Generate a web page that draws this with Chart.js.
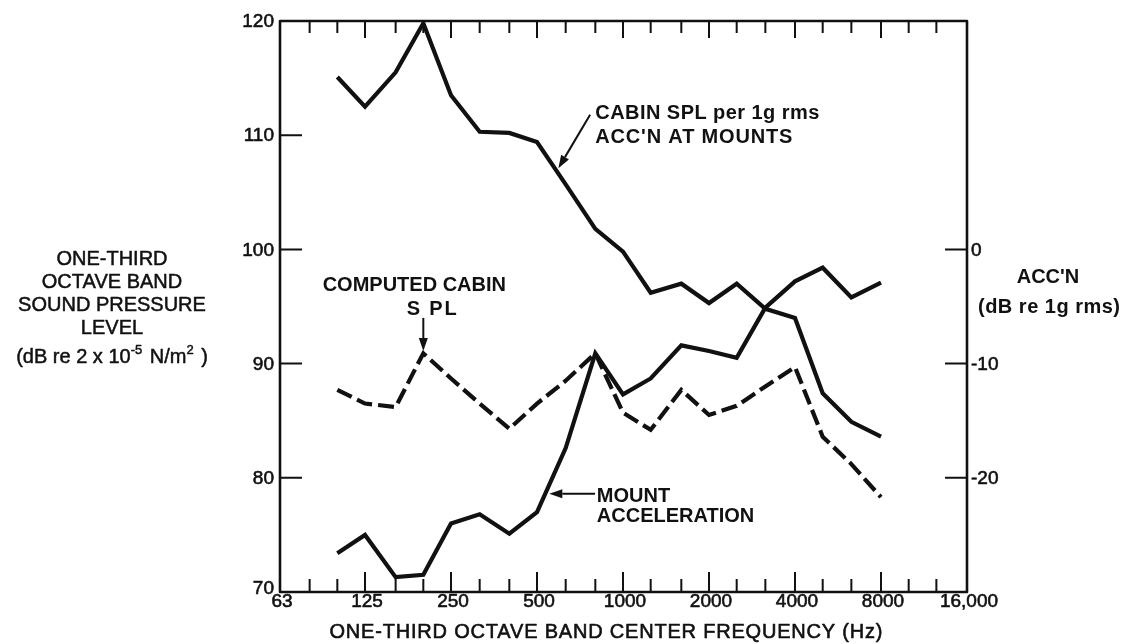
<!DOCTYPE html>
<html>
<head>
<meta charset="utf-8">
<script src="https://cdn.jsdelivr.net/npm/chart.js@4.4.0/dist/chart.umd.min.js"></script>
<style>
  html, body { margin: 0; padding: 0; background: #fff; }
  #wrap { width: 1124px; height: 644px; }
</style>
</head>
<body>
<div id="wrap"><canvas id="spectrum" width="1124" height="644"></canvas></div>
<script>
// one-third octave band centres that carry data (Hz)
const bands = [100, 125, 160, 200, 250, 315, 400, 500, 630, 800, 1000, 1250, 1600, 2000, 2500, 3150, 4000, 5000, 6300, 8000];

// cabin SPL per 1g rms acceleration at mounts (dB re 2x10^-5 N/m^2)
const cabinPerG = [115.1, 112.5, 115.5, 119.8, 113.5, 110.3, 110.2, 109.4, 105.7, 101.8, 99.8, 96.2, 97.0, 95.3, 97.0, 94.8, 94.0, 87.4, 84.9, 83.6];

// computed cabin SPL (dB re 2x10^-5 N/m^2)
const computedSpl = [87.7, 86.5, 86.2, 90.9, 88.7, 86.5, 84.3, 86.5, 88.5, 90.9, 85.7, 84.2, 87.7, 85.5, 86.3, 88.0, 89.7, 83.6, 81.2, 78.3];

// mount acceleration (dB re 1g rms)
const mountAcc = [-26.6, -25.0, -28.7, -28.5, -24.0, -23.2, -24.9, -23.0, -17.4, -9.1, -12.7, -11.3, -8.4, -8.9, -9.5, -5.1, -2.8, -1.6, -4.2, -2.9];

// axis ticks
const bandTicks = [63, 80, 100, 125, 160, 200, 250, 315, 400, 500, 630, 800, 1000, 1250, 1600, 2000, 2500, 3150, 4000, 5000, 6300, 8000, 10000, 12500, 16000];
const octaveLabels = { 63: '63', 125: '125', 250: '250', 500: '500', 1000: '1000', 2000: '2000', 4000: '4000', 8000: '8000', 16000: '16,000' };
const splTicks = [70, 80, 90, 100, 110, 120];
const accTicks = [0, -10, -20];

// callouts, anchored in data units: frequency, dB on the left axis
const notes = [
  { text: 'CABIN SPL per 1g rms', f: 800, db: 111.4, align: 'left', width: 224 },
  { text: "ACC'N AT MOUNTS", f: 800, db: 109.3, align: 'left', width: 197 },
  { text: 'COMPUTED CABIN', f: 186, db: 96.4, align: 'center' },
  { text: 'S PL', f: 214, db: 94.25, align: 'center', width: 50 },
  { text: 'MOUNT', f: 810, db: 77.9, align: 'left' },
  { text: 'ACCELERATION', f: 810, db: 76.15, align: 'left' },
];
const arrows = [
  { from: [767, 111.8], to: [594, 107.1] },
  { from: [200, 94.0], to: [200, 91.1] },
  { from: [798, 78.6], to: [552, 78.6] },
];

const ink = '#111';
const face = 'Liberation Sans, Arial, sans-serif';

const toPoints = vals => vals.map((v, i) => ({ x: bands[i], y: v }));

// draw text, optionally stretched to a given width; heavy adds a thin outline
function putText(ctx, text, x, y, align, width, heavy) {
  ctx.letterSpacing = '0px';
  const natural = ctx.measureText(text).width;
  let w = natural;
  if (width && text.length > 1) {
    ctx.letterSpacing = ((width - natural) / (text.length - 1)) + 'px';
    w = width;
  }
  const left = align === 'center' ? x - w / 2 : align === 'right' ? x - w : x;
  ctx.textAlign = 'left';
  ctx.fillText(text, left, y);
  if (heavy) {
    ctx.lineWidth = heavy;
    ctx.strokeText(text, left, y);
  }
  ctx.letterSpacing = '0px';
}

const paper = {
  id: 'paper',
  afterDatasetsDraw(chart) {
    const { ctx, chartArea: a, scales: { x, y, y1 } } = chart;
    ctx.save();
    ctx.strokeStyle = ink;
    ctx.fillStyle = ink;
    ctx.lineCap = 'butt';
    ctx.lineJoin = 'round';

    // frame
    ctx.lineWidth = 2.6;
    ctx.strokeRect(a.left, a.top, a.right - a.left, a.bottom - a.top);

    // frequency ticks, inward, top and bottom
    ctx.lineWidth = 2;
    ctx.beginPath();
    bandTicks.forEach(f => {
      if (f === 63 || f === 16000) return;
      const px = x.getPixelForValue(f);
      const major = f in octaveLabels;
      ctx.moveTo(px, a.bottom);
      ctx.lineTo(px, a.bottom - (major ? 20 : 13));
      ctx.moveTo(px, a.top);
      ctx.lineTo(px, a.top + (major ? 17 : 12));
    });
    // level ticks, inward, both sides
    splTicks.forEach(v => {
      if (v === 70 || v === 120) return;
      const py = y.getPixelForValue(v);
      ctx.moveTo(a.left, py);
      ctx.lineTo(a.left + 22, py);
    });
    accTicks.forEach(v => {
      const py = y1.getPixelForValue(v);
      ctx.moveTo(a.right, py);
      ctx.lineTo(a.right - 22, py);
    });
    ctx.stroke();

    // tick labels
    ctx.font = '19px ' + face;
    ctx.textBaseline = 'middle';
    splTicks.forEach(v => putText(ctx, String(v), a.left - 6, y.getPixelForValue(v) + (v === 70 ? -3 : 1), 'right', 0, 0.6));
    accTicks.forEach(v => putText(ctx, String(v), a.right + 4, y1.getPixelForValue(v) + 1, 'left', 0, 0.6));
    ctx.textBaseline = 'alphabetic';
    Object.keys(octaveLabels).forEach(f => {
      putText(ctx, octaveLabels[f], x.getPixelForValue(+f) + 2, a.bottom + 15, 'center', 0, 0.6);
    });

    // axis titles
    ctx.font = '20px ' + face;
    putText(ctx, 'ONE-THIRD OCTAVE BAND CENTER FREQUENCY (Hz)', 606, a.bottom + 46, 'center', 553, 0.6);
    const lx = 112;
    ['ONE-THIRD', 'OCTAVE BAND', 'SOUND PRESSURE', 'LEVEL'].forEach((t, i) => {
      putText(ctx, t, lx, 265 + i * 23, 'center', 0, 0.5);
    });
    // (dB re 2x10^-5 N/m^2) with raised exponents
    const parts = [['(dB re 2 x 10', false], ['-5', true], [' N/m', false], ['2', true], [' )', false]];
    const wOf = ([t, sup]) => { ctx.font = (sup ? '13px ' : '20px ') + face; return ctx.measureText(t).width + (sup ? 2 : 0); };
    const total = parts.reduce((s, p) => s + wOf(p), 0);
    let cx = lx - total / 2;
    parts.forEach(p => {
      const w = wOf(p);
      putText(ctx, p[0], cx, p[1] ? 354 : 363, 'left', 0, 0.5);
      cx += w;
    });

    ctx.font = 'bold 20px ' + face;
    putText(ctx, "ACC'N", 1048, 283, 'center');
    putText(ctx, '(dB re 1g rms)', 1049, 313, 'center', 142);

    // callouts
    notes.forEach(n => {
      putText(ctx, n.text, x.getPixelForValue(n.f), y.getPixelForValue(n.db), n.align, n.width);
    });

    // arrows
    ctx.lineWidth = 2;
    arrows.forEach(ar => {
      const x0 = x.getPixelForValue(ar.from[0]), y0 = y.getPixelForValue(ar.from[1]);
      const x1 = x.getPixelForValue(ar.to[0]), y1p = y.getPixelForValue(ar.to[1]);
      const ang = Math.atan2(y1p - y0, x1 - x0);
      const len = 13, half = 4.5;
      const bx = x1 - len * Math.cos(ang), by = y1p - len * Math.sin(ang);
      ctx.beginPath();
      ctx.moveTo(x0, y0);
      ctx.lineTo(bx, by);
      ctx.stroke();
      ctx.beginPath();
      ctx.moveTo(x1, y1p);
      ctx.lineTo(bx + half * Math.sin(ang), by - half * Math.cos(ang));
      ctx.lineTo(bx - half * Math.sin(ang), by + half * Math.cos(ang));
      ctx.closePath();
      ctx.fill();
    });

    ctx.restore();
  }
};

const lineStyle = { borderColor: ink, borderWidth: 4.2, pointRadius: 0, tension: 0, fill: false };

new Chart(document.getElementById('spectrum'), {
  type: 'line',
  data: {
    datasets: [
      { label: "Cabin SPL per 1g rms acc'n at mounts", data: toPoints(cabinPerG), yAxisID: 'y', ...lineStyle },
      { label: 'Computed cabin SPL', data: toPoints(computedSpl), yAxisID: 'y', borderDash: [16, 6], ...lineStyle },
      { label: 'Mount acceleration', data: toPoints(mountAcc), yAxisID: 'y1', ...lineStyle },
    ],
  },
  options: {
    responsive: false,
    animation: false,
    layout: { padding: { left: 280, right: 157, top: 21, bottom: 52 } },
    plugins: { legend: { display: false }, tooltip: { enabled: false } },
    scales: {
      x: { type: 'logarithmic', min: 63, max: 16000, display: false },
      y: { type: 'linear', min: 70, max: 120, display: false },
      y1: { type: 'linear', min: -30, max: 20, display: false },
    },
  },
  plugins: [paper],
});
</script>
</body>
</html>
